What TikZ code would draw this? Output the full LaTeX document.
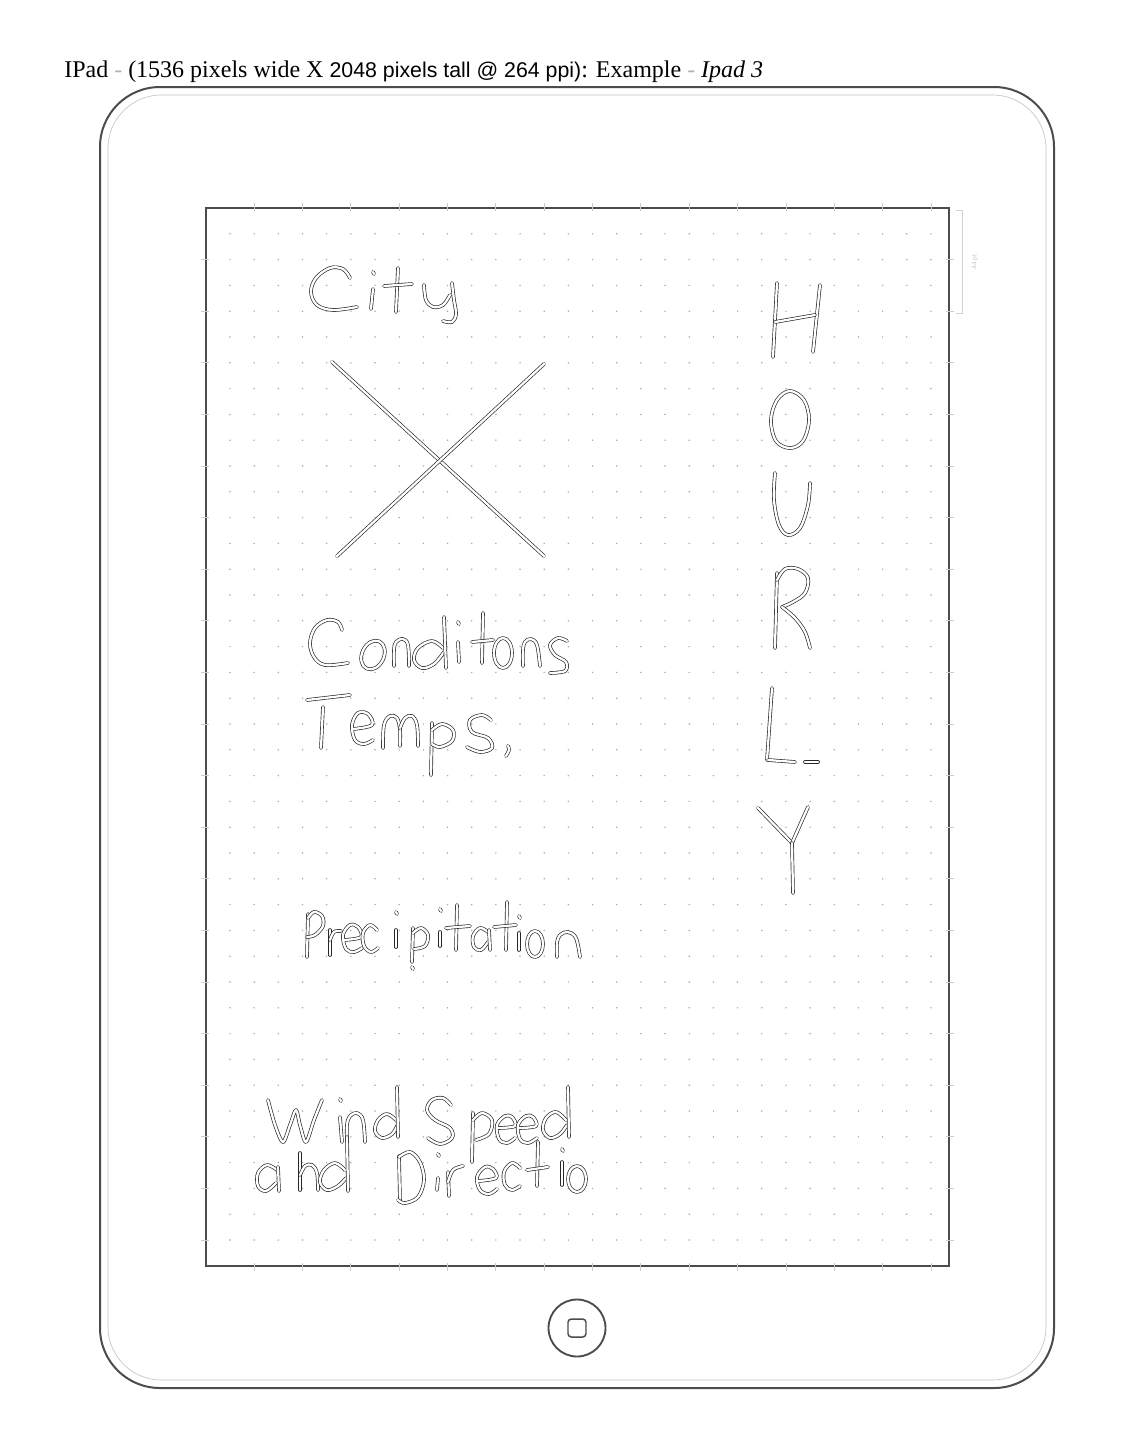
\documentclass[tikz,border=0pt]{standalone}
\usepackage{fontspec}
\setmainfont{Liberation Serif}
\newfontfamily\titlesans{Liberation Sans}
\tikzset{
  hw/.style={draw=black!85, line width=0.5pt, double=white, double distance=1.7pt, line cap=round, line join=round},
  bodyline/.style={draw=black!70, line width=1.5pt},
  bodyinner/.style={draw=gray!45, line width=0.5pt},
  screenline/.style={draw=black!70, line width=1.8pt},
  tickline/.style={draw=gray!40, line width=0.6pt},
  dotc/.style={fill=gray!65},
}
\newcommand{\hwc}[1]{\draw[hw] plot[smooth, tension=0.6] coordinates {#1};}
\newcommand{\hwo}[1]{\draw[hw] plot[smooth cycle, tension=0.6] coordinates {#1};}
\begin{document}
\begin{tikzpicture}[x=0.75pt, y=-0.75pt]
\useasboundingbox[fill=white] (0,0) rectangle (1144,1453);

% title
\node[anchor=base west, inner sep=0, font=\fontsize{18}{21}\selectfont] (title) at (64,77)
  {IPad {\color{gray!60}-} (1536 pixels wide X {\titlesans\fontsize{16}{19}\selectfont 2048 pixels tall @ 264 ppi)}: Example {\color{gray!60}-} \textit{Ipad 3}};

% device body
\draw[bodyline, rounded corners=45pt] (100,87) rectangle (1054,1388);
\draw[bodyinner, rounded corners=40pt] (108,95) rectangle (1046,1380);

% dot grid
\foreach \i in {0,...,29}
  \foreach \j in {1,...,40}
    \fill[dotc] ({230+24.17*\i},{208+25.8*\j}) circle (0.85);

% screen
\draw[screenline] (206,208) rectangle (949,1266);
\foreach \k in {1,3,...,29} {
  \draw[tickline] ({230+24.17*\k},203) -- ({230+24.17*\k},211);
  \draw[tickline] ({230+24.17*\k},1263) -- ({230+24.17*\k},1271);
}
\foreach \j in {1,...,20} {
  \draw[tickline] (201,{208+51.6*\j}) -- (209,{208+51.6*\j});
  \draw[tickline] (946,{208+51.6*\j}) -- (954,{208+51.6*\j});
}

% measurement bracket
\draw[draw=gray!35, line width=0.5pt] (956,210) -- (962,210) -- (962,313) -- (956,313);
\node[rotate=90, text=gray!45, font=\titlesans\fontsize{5}{6}\selectfont, inner sep=0] (meas) at (975,262) {44 pt};

% home button
\draw[draw=black!70, line width=1.4pt] (577,1328) circle (28.5);
\draw[draw=black!70, line width=1.1pt, rounded corners=2.5pt] (568,1319) rectangle (586,1337);

% ---- handwriting ----
% City
\hwc{(350,278) (343,269) (330,268) (316,278) (311,292) (317,305) (333,310) (357,307)}
\hwc{(373,272) (374,274)}
\hwc{(373,289) (371,309)}
\hwc{(398,268) (396,312)}
\hwc{(384,286) (412,284)}
\hwc{(424,285) (426,300) (433,307) (443,305) (450,295)}
\hwc{(452,283) (454,300) (456,314) (452,322) (443,321)}

% X
\draw[hw] (332,362) -- (544,556);
\draw[hw] (544,364) -- (337,556);

% Conditons
\hwc{(342,630) (338,622) (327,620) (315,628) (310,643) (314,657) (325,665) (348,663)}
\draw[hw, rotate around={-25:(373,655)}] (373,655) ellipse (11 and 15);
\hwc{(394,666) (394,650) (396,642) (403,639) (408,645) (409,666)}
\hwc{(443,648) (432,641) (418,648) (414,660) (422,668) (434,664) (444,652)}
\hwc{(444,617) (446,668)}
\hwc{(458,622) (459,624)}
\hwc{(458,642) (459,662)}
\hwc{(483,613) (482,663)}
\hwc{(472,642) (493,640)}
\draw[hw] (503,653) ellipse (9 and 15);
\hwc{(523,666) (523,650) (525,642) (531,639) (537,645) (540,666)}
\hwc{(567,641) (558,638) (550,645) (555,655) (566,662) (565,671) (550,673)}

% Temps.
\hwc{(307,700) (350,695)}
\hwc{(323,707) (321,748)}
\hwc{(353,729) (372,725) (368,714) (358,713) (352,725) (355,740) (364,744) (373,740)}
\hwc{(383,748) (384,725) (390,716) (397,718) (400,730) (400,746)}
\hwc{(400,728) (405,718) (412,716) (417,725) (418,746)}
\hwc{(432,723) (431,775)}
\hwc{(432,730) (442,724) (453,730) (452,741) (440,747) (432,744)}
\hwc{(491,720) (482,715) (470,720) (472,732) (488,738) (492,748) (480,752) (467,747)}
\hwc{(508,746) (509,750) (506,756)}

% Precipitation
\hwc{(308,914) (307,957)}
\hwc{(308,918) (314,912) (322,916) (323,926) (315,935) (307,937)}
\hwc{(330,930) (330,955)}
\hwc{(330,940) (334,932) (341,931)}
\hwc{(344,940) (361,937) (358,927) (350,925) (343,935) (346,949) (354,952) (362,948)}
\hwc{(377,930) (370,925) (363,933) (364,946) (371,952) (378,948)}
\hwc{(396,912) (397,914)}
\hwc{(396,930) (396,947)}
\hwc{(413,928) (412,962)}
\hwc{(413,933) (421,928) (428,935) (425,946) (414,949)}
\hwc{(412,967) (413,969)}
\hwc{(440,909) (441,911)}
\hwc{(440,932) (440,946)}
\hwc{(457,905) (456,950)}
\hwc{(446,928) (470,926)}
\hwc{(488,932) (480,928) (473,936) (474,947) (481,950) (488,942)}
\hwc{(489,930) (490,950)}
\hwc{(507,902) (506,950)}
\hwc{(494,927) (516,925)}
\hwc{(519,916) (520,918)}
\hwc{(519,933) (519,950)}
\draw[hw] (535,944) ellipse (8 and 13);
\hwc{(557,957) (557,943) (560,935) (568,932) (576,938) (580,957)}

% Wind Speed
\draw[hw] plot[smooth, tension=0.5] coordinates {(268,1100) (275,1125) (283,1142) (290,1125) (296,1110) (300,1125) (306,1142) (314,1120) (322,1100)};
\hwc{(340,1099) (341,1101)}
\hwc{(340,1117) (342,1142)}
\hwc{(347,1142) (347,1125) (350,1116) (357,1113) (363,1120) (365,1142)}
\hwc{(396,1120) (387,1114) (378,1120) (375,1131) (382,1138) (392,1134) (397,1126)}
\hwc{(397,1087) (398,1137)}
\hwc{(451,1105) (443,1098) (432,1100) (427,1110) (435,1120) (450,1128) (452,1138) (440,1144) (428,1138)}
\hwc{(473,1113) (472,1162)}
\hwc{(473,1120) (482,1113) (492,1120) (489,1134) (476,1140)}
\hwc{(498,1128) (515,1126) (512,1117) (505,1116) (497,1125) (499,1139) (507,1143) (515,1138)}
\hwc{(519,1128) (536,1126) (533,1117) (526,1116) (518,1125) (520,1139) (528,1143) (537,1138)}
\hwc{(566,1120) (556,1112) (546,1118) (543,1130) (550,1138) (560,1134) (567,1125)}
\hwc{(568,1087) (569,1137)}

% and Directio
\hwc{(277,1170) (267,1165) (258,1173) (258,1186) (266,1191) (276,1183)}
\hwc{(278,1167) (279,1191)}
\hwc{(300,1153) (300,1190)}
\hwc{(300,1175) (305,1166) (312,1165) (317,1173) (318,1190)}
\hwc{(345,1170) (335,1163) (324,1170) (320,1182) (327,1190) (338,1186) (346,1178)}
\hwc{(347,1137) (348,1191)}
\hwc{(399,1156) (400,1201)}
\hwc{(399,1157) (410,1152) (420,1162) (424,1180) (418,1197) (405,1203) (398,1200)}
\hwc{(438,1154) (439,1156)}
\hwc{(438,1178) (437,1190)}
\hwc{(448,1172) (449,1196)}
\hwc{(448,1182) (453,1170) (463,1166)}
\hwc{(478,1181) (496,1178) (493,1169) (485,1167) (477,1177) (480,1190) (489,1194) (497,1189)}
\hwc{(520,1168) (512,1163) (504,1172) (505,1185) (512,1190) (520,1186)}
\hwc{(538,1142) (537,1186)}
\hwc{(527,1170) (548,1167)}
\hwc{(562,1149) (563,1151)}
\hwc{(562,1162) (562,1185)}
\draw[hw] (577,1179) ellipse (9 and 13);

% HOURLY
\hwc{(777,283) (773,357)}
\hwc{(820,285) (813,352)}
\hwc{(775,322) (815,315)}
\hwo{(790,391) (804,400) (809,420) (803,441) (790,448) (776,441) (771,420) (777,400)}
\hwc{(775,473) (774,500) (779,525) (788,535) (800,528) (808,505) (810,483)}
\hwc{(777,573) (775,648)}
\hwc{(777,580) (785,569) (798,569) (808,578) (805,593) (793,602) (782,607)}
\hwc{(782,607) (795,618) (805,632) (810,648)}
\hwc{(772,688) (767,760)}
\hwc{(768,760) (795,762)}
\hwc{(805,762) (818,762)}
\hwc{(758,808) (792,843)}
\hwc{(808,807) (792,843)}
\hwc{(792,843) (793,893)}
\end{tikzpicture}
\end{document}
